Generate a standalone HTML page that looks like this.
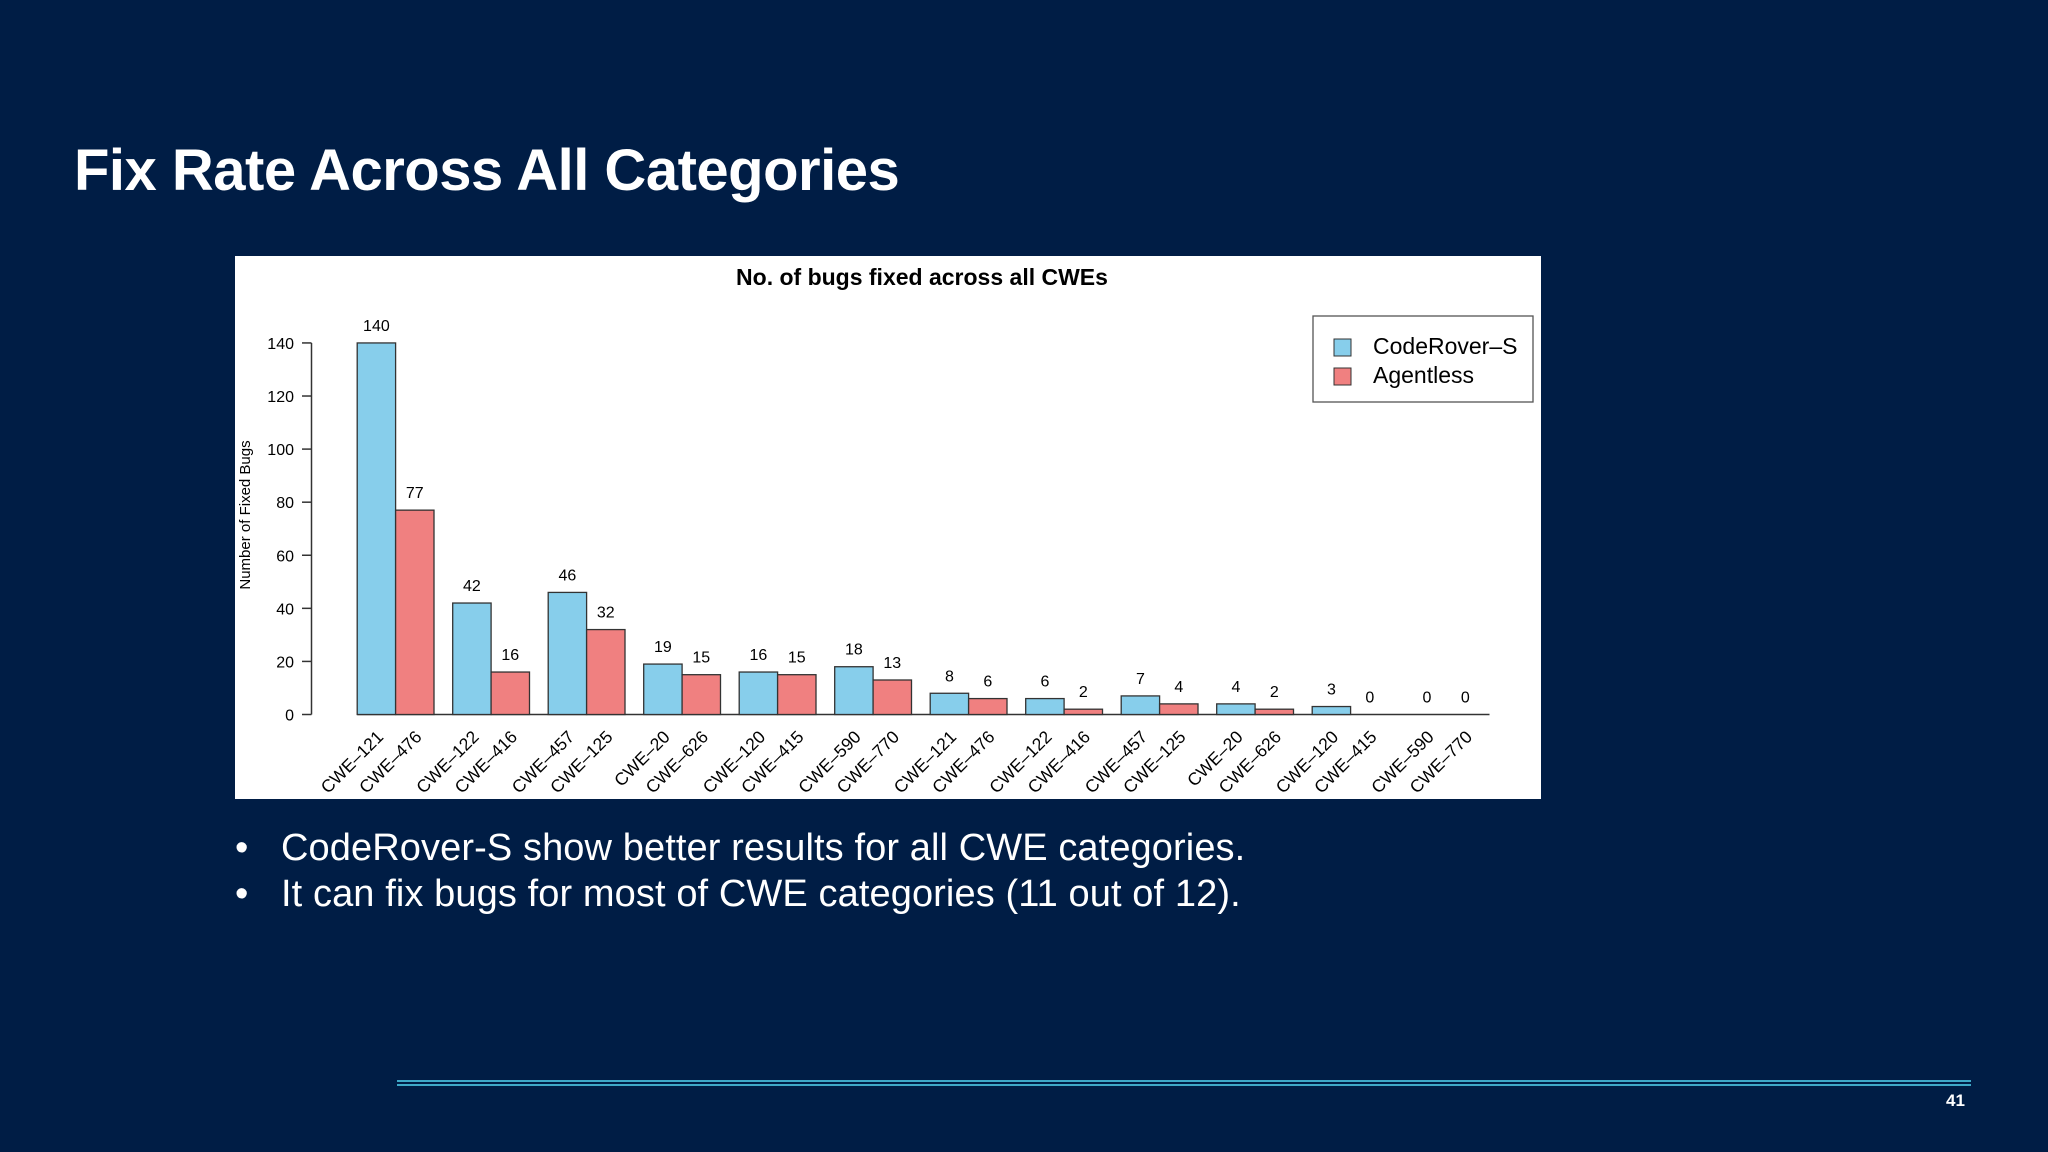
<!DOCTYPE html>
<html><head><meta charset="utf-8"><style>
body{margin:0;width:2048px;height:1152px;background:#001d45;overflow:hidden;font-family:"Liberation Sans",sans-serif;position:relative}
#title{position:absolute;left:74px;top:137px;color:#fff;font-weight:bold;font-size:58px;font-family:"Liberation Sans",sans-serif;letter-spacing:-0.5px}
.b{position:absolute;left:235px;color:#fff;font-size:38px}
.b span{position:absolute;left:46px;white-space:nowrap;letter-spacing:0.1px}
</style></head><body>
<div id="title">Fix Rate Across All Categories</div>
<svg id="chart" style="position:absolute;left:0;top:0" width="2048" height="1152"></svg>
<div class="b" style="top:827px">•<span>CodeRover-S show better results for all CWE categories.</span></div>
<div class="b" style="top:873px">•<span>It can fix bugs for most of CWE categories (11 out of 12).</span></div>
<div style="position:absolute;left:397px;top:1080px;width:1574px;height:2px;background:#3fa9c9"></div>
<div style="position:absolute;left:397px;top:1084px;width:1574px;height:2px;background:#3fa9c9"></div>
<div style="position:absolute;left:1946px;top:1091px;color:#fff;font-size:17px;font-weight:bold">41</div>
<script>
const blueLabels=["CWE-121","CWE-122","CWE-457","CWE-20","CWE-120","CWE-590","CWE-121","CWE-122","CWE-457","CWE-20","CWE-120","CWE-590"];
const redLabels=["CWE-476","CWE-416","CWE-125","CWE-626","CWE-415","CWE-770","CWE-476","CWE-416","CWE-125","CWE-626","CWE-415","CWE-770"];
const coderover=[140,42,46,19,16,18,8,6,7,4,3,0];
const agentless=[77,16,32,15,15,13,6,2,4,2,0,0];
const yTicks=[0,20,40,60,80,100,120,140];
const NS="http://www.w3.org/2000/svg";
const svg=document.getElementById('chart');
function mk(t,a,txt){const e=document.createElementNS(NS,t);for(const k in a)e.setAttribute(k,a[k]);if(txt!=null)e.textContent=txt;svg.appendChild(e);return e;}
const y0=714.5,ppu=2.654,x0=357.2,bw=38.4,gw=95.5;
const y=v=>y0-v*ppu;
const x=i=>x0+i*gw;
let e;
e=mk('rect',{x:235,y:256,width:1306,height:543,fill:'#fff'});


e=mk('text',{x:922,y:285,'text-anchor':'middle','font-size':23,'font-weight':'bold',fill:'#000'},'No. of bugs fixed across all CWEs');


e=mk('line',{x1:311.5,x2:311.5,y1:y(140),y2:y(0),stroke:'#333','stroke-width':1.5});


yTicks.forEach(t=>{
 e=mk('line',{x1:302,x2:311.5,y1:y(t),y2:y(t),stroke:'#333','stroke-width':1.5});
 
 
 e=mk('text',{x:294,y:y(t)+6,'text-anchor':'end','font-size':16,fill:'#000'},t);
 
 
});
e=mk('text',{x:250,y:515,'text-anchor':'middle','font-size':15,fill:'#000',transform:'rotate(-90 250 515)'},'Number of Fixed Bugs');


e=mk('line',{x1:x(0),x2:x(11)+2*bw+5,y1:y0,y2:y0,stroke:'#333','stroke-width':1.5});


coderover.forEach((v,i)=>{
 const bx=x(i),rx=bx+bw,a=agentless[i];
 e=mk('rect',{x:bx,y:y(v),width:bw,height:v*ppu,fill:'#87ceeb',stroke:'#333','stroke-width':1.3});
 
 
 e=mk('rect',{x:rx,y:y(a),width:bw,height:a*ppu,fill:'#f08080',stroke:'#333','stroke-width':1.3});
 
 
 e=mk('text',{x:bx+bw/2,y:y(v)-12,'text-anchor':'middle','font-size':16,fill:'#000'},v);
 
 
 e=mk('text',{x:rx+bw/2,y:y(a)-12,'text-anchor':'middle','font-size':16,fill:'#000'},a);
 
 
 [[bx,blueLabels[i]],[rx,redLabels[i]]].forEach(([px,l])=>{
  const cx=px+bw/2+8,cy=738;
  e=mk('text',{x:cx,y:cy,'text-anchor':'end','font-size':17.5,fill:'#000',transform:`rotate(-45 ${cx} ${cy})`},l.replace('-','\u2013'));
  
  
 });
});
e=mk('rect',{x:1313,y:316,width:220,height:86,fill:'#fff',stroke:'#555','stroke-width':1.3});


e=mk('rect',{x:1334,y:339,width:17,height:17,fill:'#87ceeb',stroke:'#333'});


e=mk('text',{x:1373,y:354,'font-size':23,fill:'#000'},'CodeRover\u2013S');


e=mk('rect',{x:1334,y:368,width:17,height:17,fill:'#f08080',stroke:'#333'});


e=mk('text',{x:1373,y:383,'font-size':23,fill:'#000'},'Agentless');


</script>
</body></html>
